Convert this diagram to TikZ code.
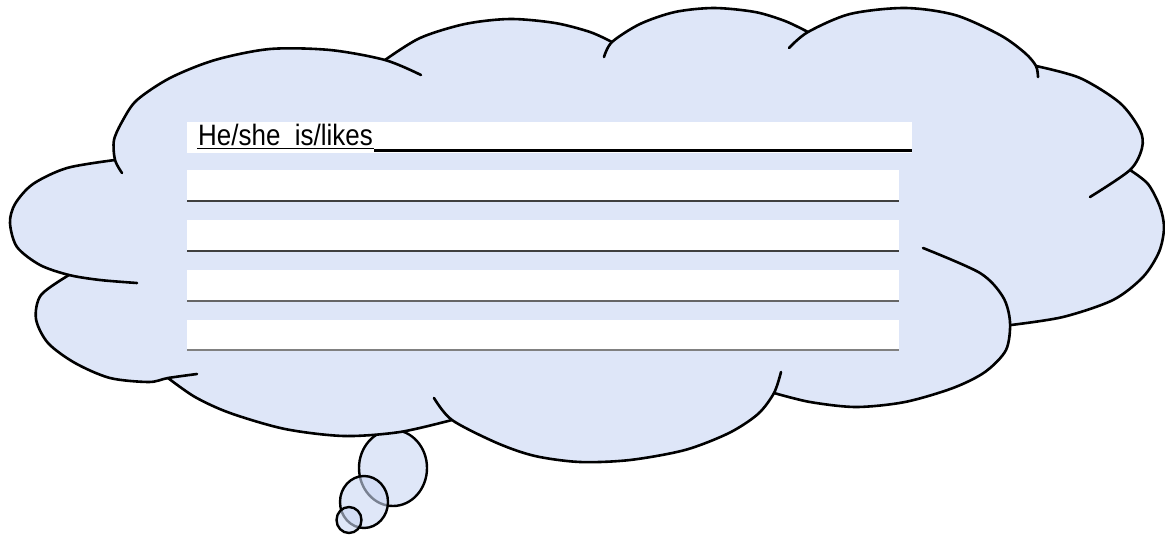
\documentclass[tikz,border=0pt]{standalone}
\usepackage{fontspec}
\setmainfont{Liberation Sans}
\definecolor{cloudblue}{RGB}{222,230,248}
\definecolor{bubbleblue}{RGB}{202,215,243}
\begin{document}
\begin{tikzpicture}[x=1pt,y=-1pt,
  outline/.style={line width=2.6pt, line cap=round, line join=round},
  bubble/.style={draw=black, line width=2.4pt, fill=bubbleblue, fill opacity=0.6, draw opacity=1},
  rowbox/.style={fill=white},
  rowline/.style={line width=2pt, draw=#1},
  lbl/.style={anchor=base west, inner sep=0pt, font=\fontsize{29.5}{34}\selectfont}]
\useasboundingbox (0,0) rectangle (1165,535);

% thought bubbles
\draw[bubble] (393,468) ellipse [x radius=34, y radius=38];
\draw[bubble] (364,502) ellipse [x radius=24, y radius=26];
\draw[bubble] (349,520) ellipse [x radius=12.5, y radius=13];

% cloud fill
\fill[cloudblue]
  plot[smooth] coordinates {(115,160) (114,140) (123,120) (137,100) (170,78) (215,60) (270,49) (330,50) (385,60)}
  -- plot[smooth] coordinates {(385,60) (420,38) (465,24) (510,19) (555,23) (590,32) (612,42)}
  -- plot[smooth] coordinates {(612,42) (640,24) (675,12) (714,8) (755,12) (785,21) (808,32)}
  -- plot[smooth] coordinates {(808,32) (850,14) (905,8) (955,15) (1000,35) (1025,53) (1036,66)}
  -- plot[smooth] coordinates {(1036,66) (1080,78) (1120,103) (1140,130) (1142,148) (1130,170)}
  -- plot[smooth] coordinates {(1130,170) (1148,184) (1160,207) (1164,228) (1159,252) (1143,277) (1113,300) (1063,317) (1011,325)}
  -- plot[smooth] coordinates {(1011,325) (1006,350) (985,372) (953,388) (905,402) (856,407) (810,402) (774,393)}
  -- plot[smooth] coordinates {(774,393) (758,414) (729,433) (685,450) (630,460) (580,462) (535,456) (497,443) (452,420)}
  -- plot[smooth] coordinates {(452,420) (400,432) (344,436) (285,429) (230,413) (195,397) (168,378)}
  -- plot[smooth] coordinates {(168,378) (149,382) (110,378) (75,363) (48,343) (36,319) (41,295) (69,275)}
  -- plot[smooth] coordinates {(69,275) (40,265) (17,247) (10,223) (15,204) (33,184) (67,168) (115,160)}
  -- cycle;

% cloud outline lumps with their tails
\draw[outline] plot[smooth] coordinates {(122,173) (115,160) (114,140) (123,120) (137,100) (170,78) (215,60) (270,49) (330,50) (385,60) (421,75)};
\draw[outline] plot[smooth] coordinates {(385,60) (420,38) (465,24) (510,19) (555,23) (590,32) (612,42)};
\draw[outline] plot[smooth] coordinates {(604,57) (612,42) (640,24) (675,12) (714,8) (755,12) (785,21) (808,32)};
\draw[outline] plot[smooth] coordinates {(789,48) (808,32) (850,14) (905,8) (955,15) (1000,35) (1025,53) (1036,66) (1038,77)};
\draw[outline] plot[smooth] coordinates {(1036,66) (1080,78) (1120,103) (1140,130) (1142,148) (1130,170) (1090,197)};
\draw[outline] plot[smooth] coordinates {(1130,170) (1148,184) (1160,207) (1164,228) (1159,252) (1143,277) (1113,300) (1063,317) (1011,325)};
\draw[outline] plot[smooth] coordinates {(923,248) (980,273) (1003,297) (1010,322) (1006,350) (985,372) (953,388) (905,402) (856,407) (810,402) (774,393)};
\draw[outline] plot[smooth] coordinates {(781,372) (774,393) (758,414) (729,433) (685,450) (630,460) (580,462) (535,456) (497,443) (452,420) (434,398)};
\draw[outline] plot[smooth] coordinates {(452,420) (400,432) (344,436) (285,429) (230,413) (195,397) (168,378)};
\draw[outline] plot[smooth] coordinates {(197,374) (168,378) (149,382) (110,378) (75,363) (48,343) (36,319) (41,295) (69,275)};
\draw[outline] plot[smooth] coordinates {(137,283) (100,280) (69,275) (40,265) (17,247) (10,223) (15,204) (33,184) (67,168) (115,160)};

% writing rows
\fill[rowbox] (187,122) rectangle (912,153);
\fill[rowbox] (187,170) rectangle (899,202);
\fill[rowbox] (187,220) rectangle (899,252);
\fill[rowbox] (187,270) rectangle (899,302);
\fill[rowbox] (187,320) rectangle (899,351);

\node[lbl] (label) at (198,145) {\scalebox{0.88}[1]{He/she\ \ is/likes}};
\coordinate (u1) at (197,148.5);
\coordinate (u2) at (374,148.5);
\coordinate (u3) at (374,150.5);
\coordinate (u4) at (912,150.5);
\draw[line width=1.4pt] (u1) -- (u2);
\draw[line width=2.4pt] (u3) -- (u4);

\draw[rowline=black!75] (187,201) -- (899,201);
\draw[rowline=black!75] (187,251) -- (899,251);
\draw[rowline=black!60] (187,301) -- (899,301);
\draw[rowline=black!50] (187,350) -- (899,350);
\end{tikzpicture}
\end{document}
